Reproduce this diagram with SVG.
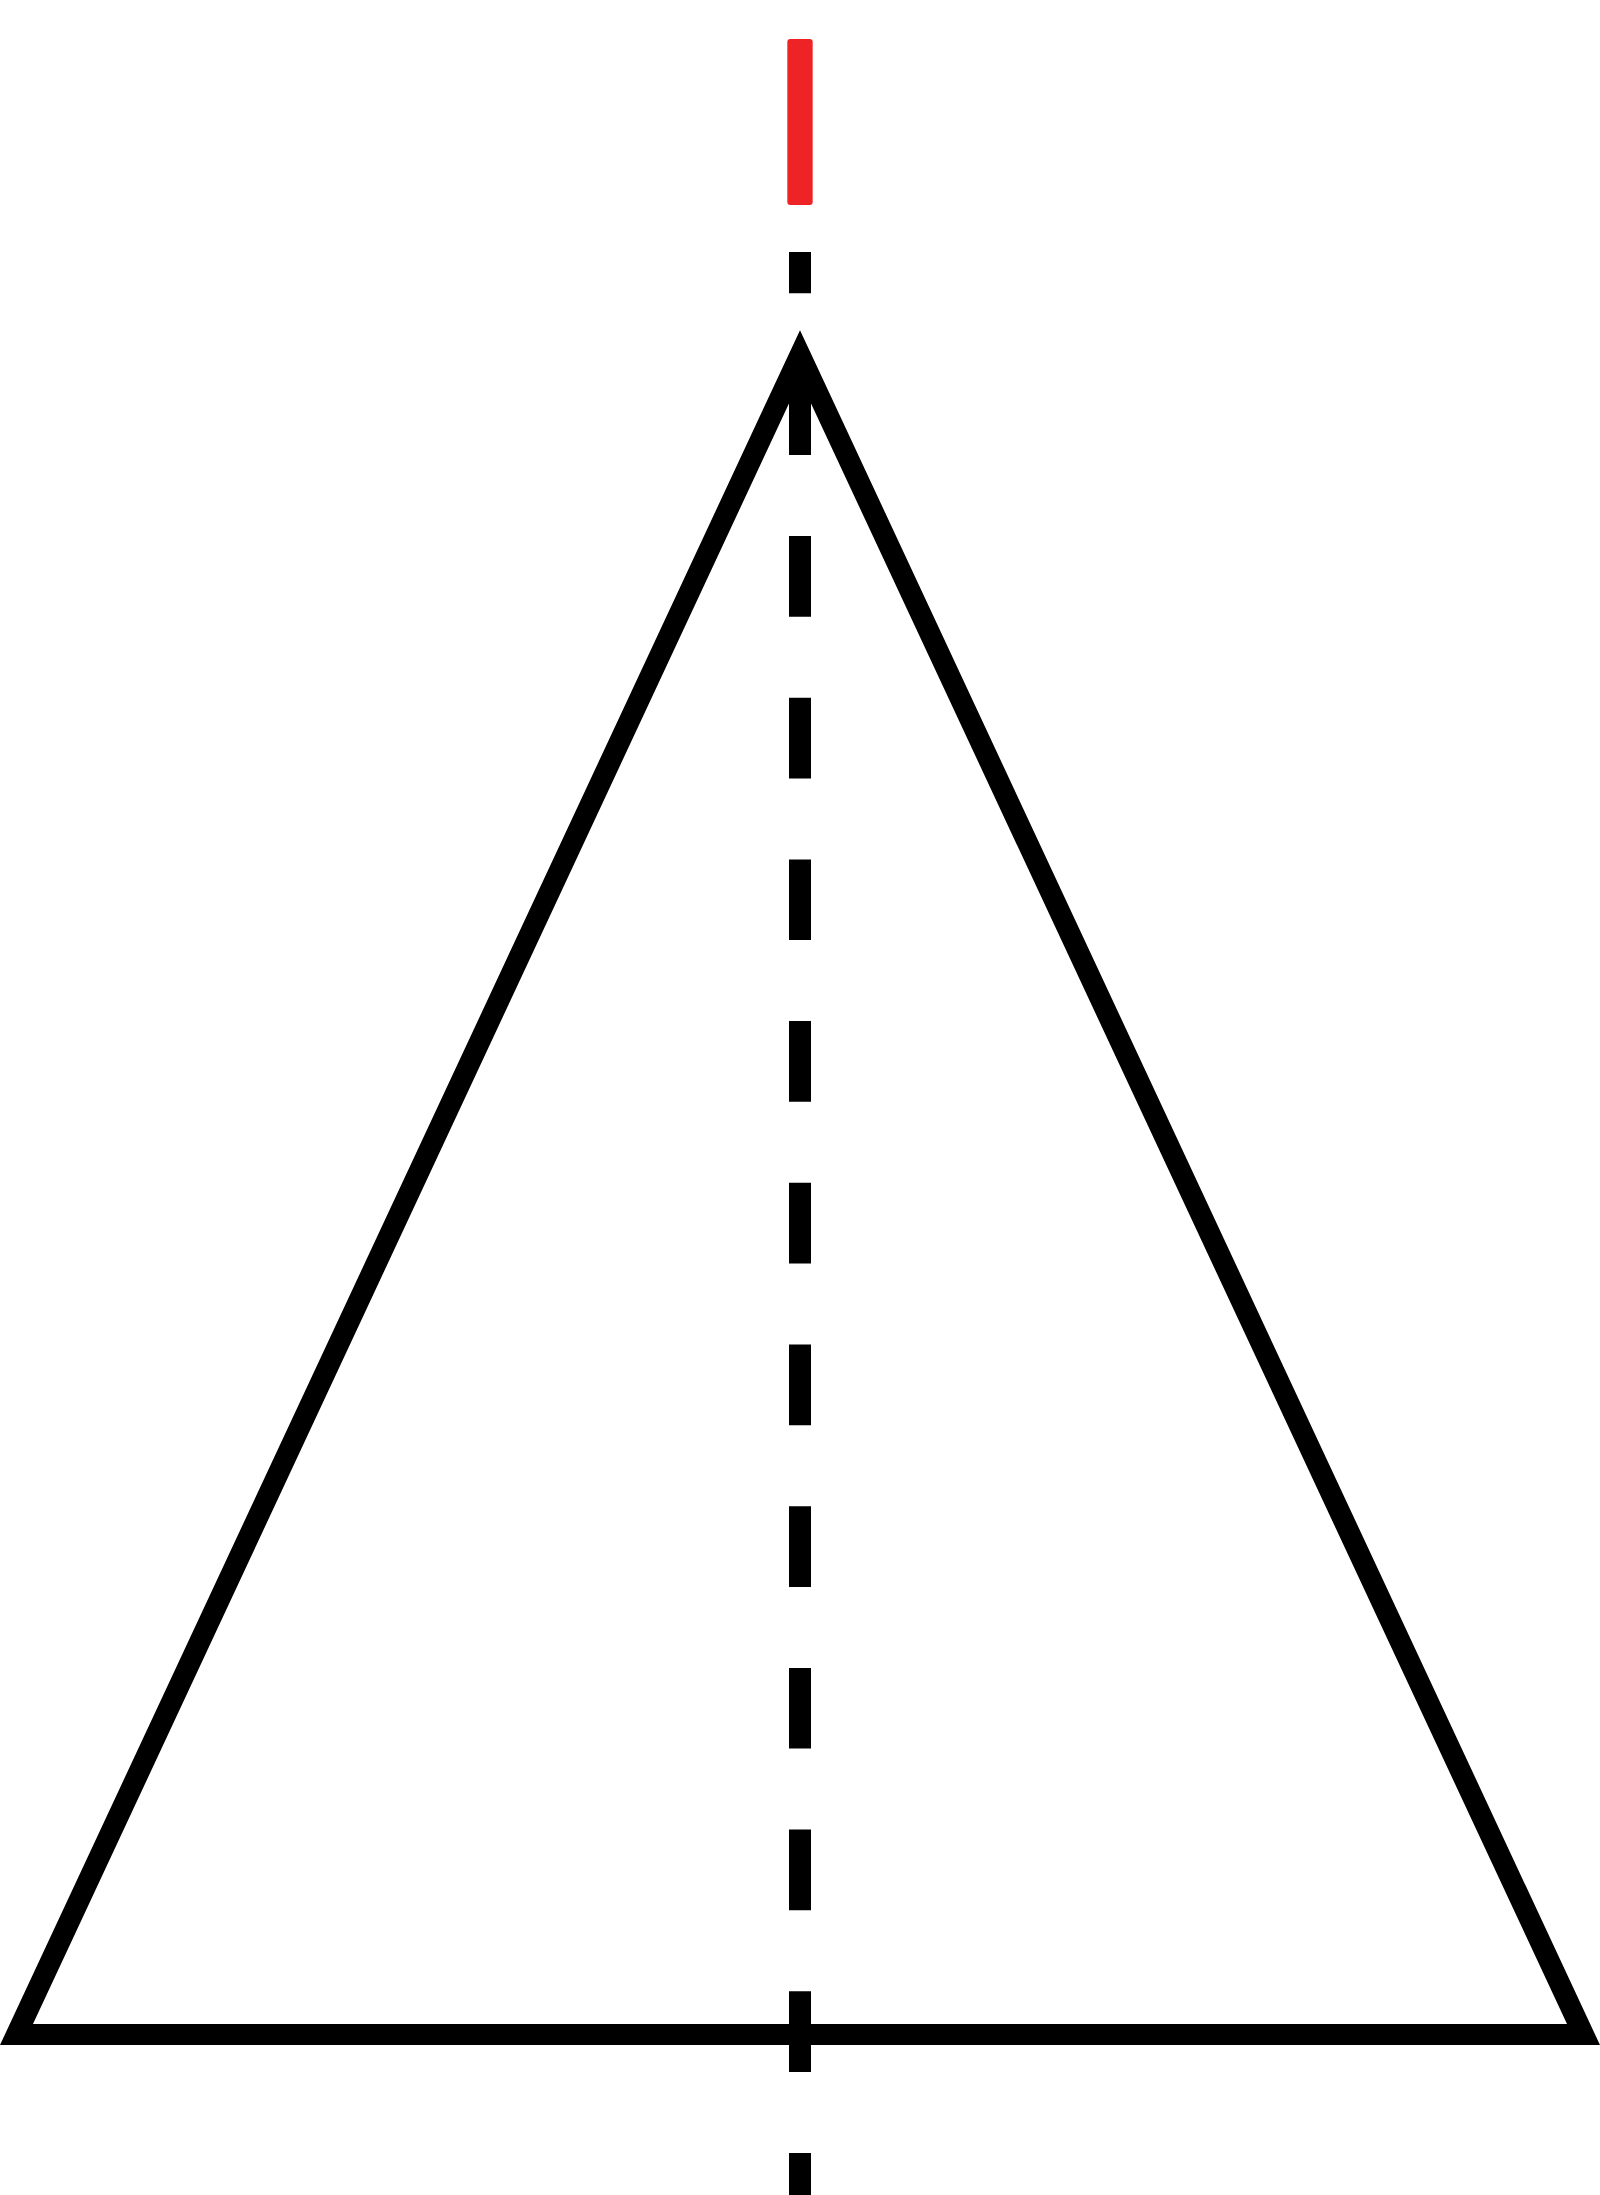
<svg xmlns="http://www.w3.org/2000/svg" width="1600" height="2195" viewBox="0 0 1600 2195">
  <style>
    .tri { fill: none; stroke: #000; stroke-width: 21; stroke-linejoin: miter; stroke-miterlimit: 10; }
    .axis { stroke: #000; stroke-width: 22; stroke-dasharray: 80.7 81; stroke-dashoffset: 39.4; fill: none; }
    .lbl { font-family: "Liberation Sans", Arial, sans-serif; font-size: 220px; fill: #EE2326; stroke: #EE2326; stroke-width: 6; stroke-linejoin: round; }
  </style>
  <rect x="0" y="0" width="1600" height="2195" fill="#fff"/>
  <g id="triangle">
    <polygon class="tri" points="800,355 1583.5,2034.5 16.5,2034.5"/>
  </g>
  <g id="connectors">
    <line class="axis" x1="800" y1="252" x2="800" y2="2195"/>
  </g>
  <g id="label-l">
    <text class="lbl" x="800" y="202" text-anchor="middle">l</text>
  </g>
</svg>
